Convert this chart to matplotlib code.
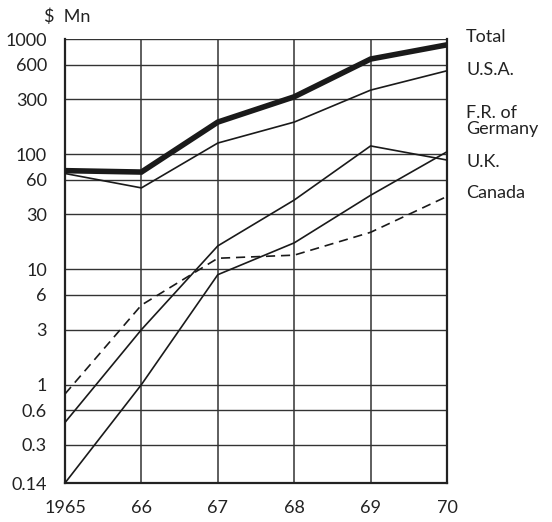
import matplotlib
matplotlib.use("Agg")
import matplotlib.pyplot as plt
import numpy as np

years = [1965, 1966, 1967, 1968, 1969, 1970]
year_labels = ["1965", "66", "67", "68", "69", "70"]
total = [72, 70, 190, 315, 670, 890]
usa = [68, 51, 125, 190, 360, 530]
germany = [0.47, 3.0, 16, 40, 118, 89]
uk = [0.14, 1.0, 9.0, 17, 44, 105]
canada = [0.83, 4.9, 12.5, 13.3, 21, 43]
y_ticks = [0.14, 0.3, 0.6, 1, 3, 6, 10, 30, 60, 100, 300, 600, 1000]
y_tick_labels = ["0.14", "0.3", "0.6", "1", "3", "6", "10", "30", "60", "100", "300", "600", "1000"]

plt.rcParams['font.family'] = ['Lato', 'DejaVu Sans']
W, H = 552, 522
fig = plt.figure(figsize=(W/100, H/100), dpi=100)
ax = fig.add_axes([65/W, 1-483/H, (447-65)/W, (483-39)/H])
ax.set_yscale('log')
ax.set_ylim(0.14, 1000)
ax.set_xlim(1965, 1970)

gc = '#333333'
for v in y_ticks:
    ax.axhline(v, color=gc, lw=1.0, zorder=1)
for x in years:
    ax.axvline(x, color=gc, lw=1.1, zorder=1)

lc = '#1a1a1a'
ax.plot(years, total, color=lc, lw=4.0, solid_joinstyle='miter', zorder=3)
ax.plot(years, usa, color=lc, lw=1.2, zorder=3)
ax.plot(years, germany, color=lc, lw=1.2, zorder=3)
ax.plot(years, uk, color=lc, lw=1.2, zorder=3)
ax.plot(years, canada, color=lc, lw=1.2, ls=(0, (5.5, 3.5)), zorder=3)

ax.set_yticks(y_ticks)
ax.set_yticklabels(y_tick_labels)
ax.yaxis.set_minor_locator(matplotlib.ticker.NullLocator())
ax.set_xticks(years)
ax.set_xticklabels(year_labels)
ax.tick_params(axis='both', length=0, labelsize=13, colors='#222222')
ax.tick_params(axis='y', pad=13)
ax.tick_params(axis='x', pad=12)
for s in ['left', 'bottom', 'right']:
    ax.spines[s].set_linewidth(1.6)
    ax.spines[s].set_color('#222222')
ax.spines['top'].set_visible(False)

lx = 1970.25
labels = [("Total", 1040), ("U.S.A.", 540), ("F.R. of\nGermany", 195), ("U.K.", 86), ("Canada", 46)]
for t, v in labels:
    ax.text(lx, v, t, fontsize=13, va='center', ha='left', clip_on=False,
            linespacing=1.0, color='#222222')

fig.text(44/W, 1-17/H, "$  Mn", fontsize=13, va='center', ha='left', color='#222222')

fig.savefig("out.png", dpi=100)
